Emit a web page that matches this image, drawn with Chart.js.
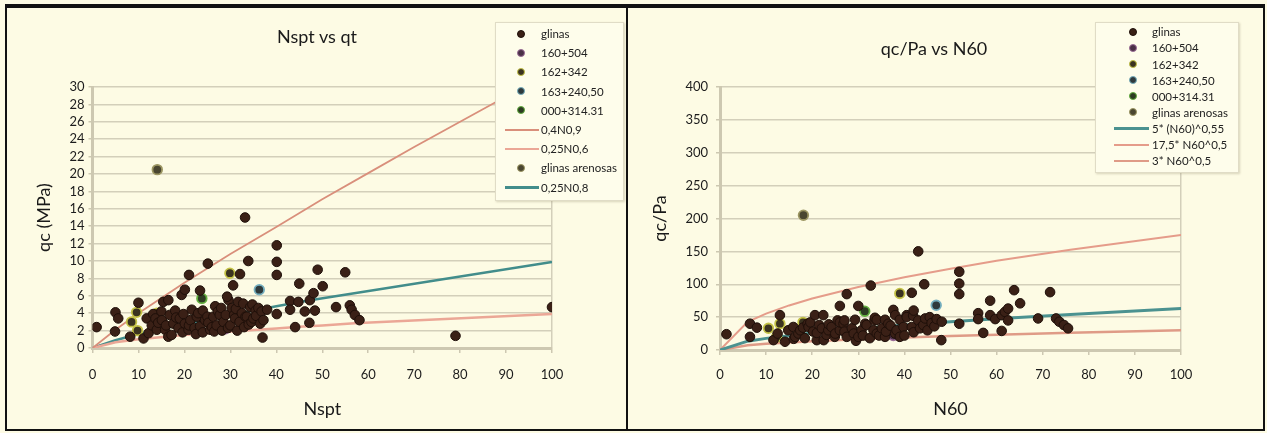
<!DOCTYPE html>
<html><head><meta charset="utf-8">
<script src="https://cdn.jsdelivr.net/npm/chart.js@4.4.1/dist/chart.umd.min.js"></script>
<style>
html,body{margin:0;padding:0;background:#fdfbe4;width:1267px;height:433px;overflow:hidden;font-family:Lato,'DejaVu Sans',sans-serif;}
#frame{position:absolute;left:5px;top:4px;width:1256px;height:421px;border:2px solid #111;border-top:4px solid #111;}
#divider{position:absolute;left:626px;top:4px;width:2px;height:427px;background:#111;}
canvas{position:absolute;}
.title{position:absolute;font-size:18px;line-height:22px;color:#1a1a1a;white-space:nowrap;transform:translateX(-50%);}
.legend{position:absolute;background:#fefdeb;border:1px solid #e0dcc6;box-shadow:1px 1px 2px rgba(150,140,110,0.35);}
.li{position:absolute;font-size:11.5px;line-height:14px;color:#222;white-space:nowrap;}
.mk{position:absolute;width:6px;height:6px;border-radius:50%;border:1.5px solid;}
.ln{position:absolute;}
</style></head>
<body>
<div id="frame"></div>
<div id="divider"></div>
<canvas id="c1" width="619" height="421" style="left:7px;top:8px"></canvas>
<canvas id="c2" width="635" height="421" style="left:628px;top:8px"></canvas>
<div class="title" style="left:317px;top:25px">Nspt vs qt</div>
<div class="title" style="left:934px;top:37px">qc/Pa vs N60</div>
<div id="legL" class="legend" style="left:495px;top:22px;width:127px;height:177px"></div>
<div id="legR" class="legend" style="left:1095px;top:22px;width:142px;height:149px"></div>
<script>
// ---------- DATA ----------
const xTicks = [0,10,20,30,40,50,60,70,80,90,100];
const yTicksLeft = [0,2,4,6,8,10,12,14,16,18,20,22,24,26,28,30];
const yTicksRight = [0,50,100,150,200,250,300,350,400];

// Left chart: Nspt vs qc (MPa)
const glinasL = [[0.9,2.4],[5.0,4.1],[5.6,3.4],[4.9,1.9],[8.2,1.3],[10.0,5.2],[11.1,1.1],[11.8,3.4],[12.2,1.7],[12.9,2.6],[13.2,3.9],[13.7,3.4],[14.0,2.1],[14.3,2.9],[15.0,4.2],[15.1,3.2],[15.4,5.3],[15.8,2.1],[16.0,2.6],[16.5,5.5],[16.5,1.3],[16.8,3.8],[17.2,1.5],[17.6,2.8],[18.0,4.3],[18.2,3.5],[18.7,2.3],[19.0,3.4],[19.4,6.1],[19.6,1.8],[19.8,3.9],[20.1,6.7],[20.1,2.8],[20.9,2.1],[21.0,8.4],[21.0,2.6],[21.3,3.2],[21.6,4.4],[22.2,2.3],[22.5,1.6],[22.7,3.6],[23.0,4.0],[23.4,6.6],[23.4,2.5],[24.0,1.8],[24.0,4.3],[24.5,3.2],[25.0,3.6],[25.1,9.7],[25.2,2.9],[25.6,2.1],[26.0,2.4],[26.3,3.6],[26.5,1.9],[26.7,4.8],[27.0,2.6],[27.3,4.2],[27.7,3.8],[28.0,4.6],[28.2,2.0],[28.5,3.0],[29.0,3.8],[29.5,2.3],[29.6,5.5],[29.3,5.9],[30.0,2.6],[30.3,4.6],[30.6,7.2],[30.8,3.8],[31.0,3.4],[31.2,4.5],[31.5,2.0],[31.7,5.3],[32.0,3.0],[32.1,8.5],[32.5,4.0],[32.8,5.1],[33.0,2.4],[33.2,15.0],[33.3,3.6],[33.6,3.6],[33.9,10.0],[34.0,2.7],[34.3,4.7],[34.6,3.0],[34.8,5.0],[35.0,3.4],[35.5,4.3],[35.6,3.7],[36.1,4.6],[36.5,2.8],[36.8,4.2],[37.0,1.2],[37.2,3.2],[38.0,4.4],[40.1,11.8],[40.1,9.9],[40.1,8.4],[40.1,3.9],[43.0,5.4],[43.0,4.4],[44.1,2.4],[44.8,5.3],[45.0,7.4],[46.2,4.2],[47.2,2.9],[47.3,5.5],[48.1,6.3],[48.4,4.3],[49.0,9.0],[50.1,7.1],[53.0,4.7],[55.0,8.7],[56.0,4.9],[56.4,4.4],[57.1,3.8],[58.1,3.2],[79.0,1.4],[100.0,4.7]];
const s160_504L = [[28.8,2.2]];
const s162_342L = [[29.9,8.6],[9.6,4.1],[9.8,2.0],[8.5,3.0],[14.0,4.0]];
const s163_240L = [[36.3,6.7]];
const s000_314L = [[23.8,5.7]];
const arenosasL = [[14.1,20.5]];
const line04N09 = [[0,0],[5,2.1],[10,4.0],[20,7.5],[30,10.8],[40,13.9],[50,17.1],[60,20.1],[70,23.1],[80,26.0],[90,28.9],[100,31.9]];
const line025N06 = [[0,0],[5,0.65],[10,1.0],[20,1.5],[30,1.9],[40,2.25],[45,2.45],[50,2.6],[57,2.85],[100,3.9]];
const line025N08 = [[0,0],[5,0.9],[10,1.6],[20,2.75],[30,3.8],[40,4.8],[47,5.45],[100,9.9]];

// Right chart: N60 vs qc/Pa
const glinasR = [[1.4,24],[6.5,40],[8.0,34],[6.5,20],[11.6,15],[12.5,25],[13.0,53],[14.1,12.6],[14.8,30],[15.9,35],[16.0,17],[16.3,20],[17.0,25],[17.4,30],[18.0,34],[18.4,18],[19.0,40],[19.2,35],[19.6,42],[20.2,28],[20.6,53],[21.0,15],[21.0,26],[21.5,38],[22.1,33],[22.4,53],[22.5,15],[23.1,23],[23.5,30],[23.6,39],[24.2,35],[24.9,20],[25.0,25],[25.5,45],[26.0,67],[26.0,30],[26.0,42],[26.8,40],[27.0,28],[27.0,45],[27.5,85],[27.5,20],[28.6,33],[29.0,25],[29.3,46],[29.5,14],[30.0,67],[30.0,20],[30.7,30],[31.0,22],[31.5,40],[31.8,38],[32.5,18],[32.7,98],[33.3,30],[33.5,45],[33.6,49],[34.0,46],[34.0,25],[34.5,22],[35.1,33],[35.8,20],[35.8,46],[36.0,28],[36.5,40],[37.0,37],[37.6,61],[38.0,53],[38.0,25],[38.3,30],[39.0,46],[39.0,20],[39.8,35],[40.0,22],[40.5,53],[40.5,50],[41.6,87],[41.6,35],[41.9,52],[42.0,27],[42.0,60],[43.0,150],[43.0,45],[43.4,33],[44.1,38],[44.3,100],[44.5,48],[45.0,30],[45.5,50],[45.9,41],[46.5,36],[47.0,47],[48.0,15],[48.1,43],[51.9,119],[51.9,101],[51.9,85],[51.9,40],[56.0,56],[56.0,47],[57.1,26],[58.6,75],[58.6,53],[59.7,47],[61.1,29],[61.1,53],[61.8,58],[62.5,63],[62.5,45],[63.8,91],[65.1,71],[69.0,48],[71.6,88],[72.9,48],[73.6,43],[74.6,38],[75.5,33]];
const s160_504R = [[37.6,22]];
const s162_342R = [[39.0,86],[10.5,33],[13.0,40],[12.3,20],[18.0,42]];
const s163_240R = [[46.9,68]];
const s000_314R = [[31.4,59]];
const arenosasR = [[18.1,205]];
const line5N055 = [[0,0],[6,13.4],[10,17.7],[20,26.0],[30,32.5],[40,38.0],[50,43.0],[60,47.5],[76,54.0],[100,63.1]];
const line175N05 = [[0,0],[6,42.9],[10,55.3],[15,67.8],[20,78.3],[30,95.9],[40,110.7],[50,123.7],[60,135.6],[76,152.6],[100,175]];
const line3N05 = [[0,0],[6,7.3],[10,9.5],[20,13.4],[30,16.4],[40,19.0],[50,21.2],[60,23.2],[76,26.2],[100,30]];

// ---------- STYLES ----------
const FONT = "Lato, 'DejaVu Sans', sans-serif";
Chart.defaults.font.family = FONT;
Chart.defaults.color = '#1c1c1c';
const GRID = '#d3cfba', AXIS = '#cdc8b1';
const ST = {
  glinas:   {bg:'#3a2016', bd:'#1e0f09'},
  p160:     {bg:'#4a3046', bd:'#9a6c96'},
  p162:     {bg:'#3b3320', bd:'#c4c246'},
  p163:     {bg:'#2f3a3c', bd:'#74aebe'},
  p000:     {bg:'#2d3b22', bd:'#62ae3e'},
  aren:     {bg:'#4a4630', bd:'#9c9662'}
};
const pts = (label, data, s) => ({label, data: data.map(p=>({x:p[0],y:p[1]})), pointStyle:'circle', pointRadius:4.8, backgroundColor:s.bg, borderColor:s.bd, pointBorderWidth:s===ST.glinas?1:1.8, showLine:false, order:0});
const line = (label, data, color, w) => ({label, data: data.map(p=>({x:p[0],y:p[1]})), showLine:true, pointRadius:0, borderColor:color, backgroundColor:color, borderWidth:w, tension:0, order:10});

function xScale(h, tickPad, tbot, text){
  return {type:'linear', min:0, max:100,
    afterBuildTicks: s => { s.ticks = xTicks.map(v=>({value:v})); },
    ticks:{padding:tickPad, font:{size:13}, color:'#1c1c1c', maxRotation:0, autoSkip:false},
    grid:{color:c => (c.tick && c.tick.value===100) ? GRID : 'rgba(0,0,0,0)', lineWidth:1.5, tickColor:AXIS, tickLength:5},
    border:{display:true, color:AXIS, width:3},
    title:{display:true, text, font:{size:18}, color:'#1a1a1a', padding:{top:0,bottom:tbot}},
    afterFit: s => { s.height = h; }};
}
function yScale(w, max, ticksArr, tickPad, ttop, text){
  return {type:'linear', min:0, max,
    afterBuildTicks: s => { s.ticks = ticksArr.map(v=>({value:v})); },
    ticks:{padding:tickPad, font:{size:13}, color:'#1c1c1c', autoSkip:false},
    grid:{color:GRID, lineWidth:1.5, tickColor:AXIS, tickLength:4},
    border:{display:true, color:AXIS, width:3},
    title:{display:true, text, font:{size:18}, color:'#1a1a1a', padding:{top:ttop,bottom:0}},
    afterFit: s => { s.width = w; }};
}
const common = {responsive:false, animation:false, events:[], devicePixelRatio:1,
  plugins:{legend:{display:false}, tooltip:{enabled:false}, title:{display:false}}};

new Chart(document.getElementById('c1'), {
  type:'scatter',
  data:{datasets:[
    pts('glinas', glinasL, ST.glinas),
    pts('160+504', s160_504L, ST.p160),
    pts('162+342', s162_342L, ST.p162),
    pts('163+240,50', s163_240L, ST.p163),
    pts('000+314.31', s000_314L, ST.p000),
    line('0,4N0,9', line04N09, '#d98f7b', 1.8),
    line('0,25N0,6', line025N06, '#eba796', 2.5),
    pts('glinas arenosas', arenosasL, ST.aren),
    line('0,25N0,8', line025N08, '#428d8b', 2.5)
  ]},
  options:Object.assign({}, common, {
    layout:{padding:{left:0,right:74,top:79,bottom:0}},
    scales:{x:xScale(81, 14, 9, 'Nspt'), y:yScale(85.5, 30, yTicksLeft, 4, 26, 'qc (MPa)')}
  })
});

new Chart(document.getElementById('c2'), {
  type:'scatter',
  data:{datasets:[
    pts('glinas', glinasR, ST.glinas),
    pts('160+504', s160_504R, ST.p160),
    pts('162+342', s162_342R, ST.p162),
    pts('163+240,50', s163_240R, ST.p163),
    pts('000+314.31', s000_314R, ST.p000),
    pts('glinas arenosas', arenosasR, ST.aren),
    line('5* (N60)^0,55', line5N055, '#4b9290', 3),
    line('17,5* N60^0,5', line175N05, '#e59c8a', 2),
    line('3* N60^0,5', line3N05, '#df9b87', 2.5)
  ]},
  options:Object.assign({}, common, {
    layout:{padding:{left:0,right:82,top:79,bottom:0}},
    scales:{x:xScale(79, 12, 9, 'N60'), y:yScale(92, 400, yTicksRight, 8, 21, 'qc/Pa')}
  })
});

// ---------- HTML legends ----------
function buildLegend(el, chart, y0, dy, mx, tx, lx0, lx1){
  const box = el.getBoundingClientRect();
  chart.data.datasets.forEach((ds,i)=>{
    const cy = y0 + i*dy - box.top - 1;
    if (ds.showLine){
      const d = document.createElement('div'); d.className='ln';
      d.style.left=(lx0-box.left-1)+'px'; d.style.width=(lx1-lx0)+'px';
      d.style.top=(cy-ds.borderWidth/2)+'px'; d.style.height=ds.borderWidth+'px';
      d.style.background=ds.borderColor; el.appendChild(d);
    } else {
      const m = document.createElement('div'); m.className='mk';
      m.style.left=(mx-box.left-1-4.5)+'px'; m.style.top=(cy-4.5)+'px';
      m.style.background=ds.backgroundColor; m.style.borderColor=ds.borderColor; el.appendChild(m);
    }
    const t = document.createElement('div'); t.className='li';
    t.textContent = ds.label; t.style.left=(tx-box.left-1)+'px'; t.style.top=(cy-7)+'px';
    el.appendChild(t);
  });
}
buildLegend(document.getElementById('legL'), Chart.getChart('c1'), 34, 19.2, 521, 541, 505, 539);
buildLegend(document.getElementById('legR'), Chart.getChart('c2'), 32.3, 16.1, 1133, 1152, 1114, 1149);
</script>
</body></html>
